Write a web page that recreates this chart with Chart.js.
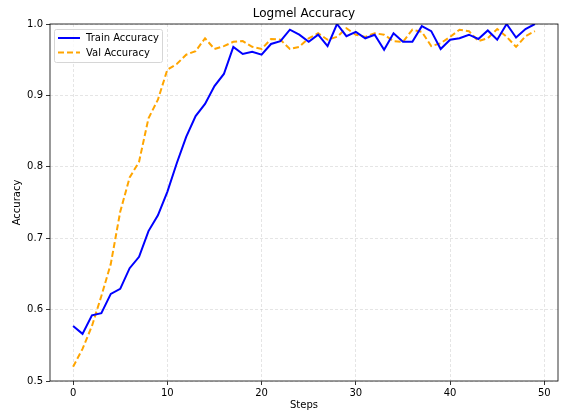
<!DOCTYPE html>
<html>
<head>
<meta charset="utf-8">
<script src="https://cdn.jsdelivr.net/npm/chart.js@4.4.0/dist/chart.umd.min.js"></script>
<style>
    html, body { margin: 0; padding: 0; background: #fff; }
    #grafico { display: block; }
</style>
</head>
<body>
<canvas id="grafico" width="561" height="415"></canvas>
<script>
const passos = Array.from({ length: 50 }, (_, i) => i);

const treinoAcuracia = [
    0.577, 0.566, 0.592, 0.595, 0.622, 0.629, 0.658, 0.674, 0.710, 0.732,
    0.765, 0.805, 0.842, 0.871, 0.888, 0.913, 0.930, 0.968, 0.958, 0.961,
    0.957, 0.972, 0.976, 0.992, 0.985, 0.975, 0.985, 0.969, 1.000, 0.983,
    0.989, 0.980, 0.985, 0.964, 0.987, 0.975, 0.975, 0.997, 0.990, 0.965,
    0.978, 0.980, 0.985, 0.979, 0.991, 0.978, 1.000, 0.981, 0.993, 1.000
];

const valAcuracia = [
    0.520, 0.545, 0.577, 0.619, 0.664, 0.737, 0.785, 0.807, 0.868, 0.894,
    0.936, 0.944, 0.957, 0.962, 0.980, 0.965, 0.969, 0.975, 0.976, 0.968,
    0.965, 0.979, 0.978, 0.965, 0.968, 0.980, 0.987, 0.978, 0.982, 0.994,
    0.985, 0.982, 0.987, 0.985, 0.976, 0.975, 0.992, 0.989, 0.969, 0.973,
    0.982, 0.992, 0.990, 0.976, 0.980, 0.993, 0.982, 0.968, 0.983, 0.990
];

const ticksX = [0, 10, 20, 30, 40, 50];
const ticksY = [0.5, 0.6, 0.7, 0.8, 0.9, 1.0];

const FONTE = 'DejaVu Sans';

function montarPontos(valores) {
    return valores.map((v, i) => ({ x: passos[i], y: v }));
}

// moldura + titulo + legenda no estilo matplotlib
const pluginMoldura = {
    id: 'moldura',
    afterDraw(chart) {
        const ctx = chart.ctx;
        const a = chart.chartArea;
        ctx.save();
        ctx.strokeStyle = '#000';
        ctx.lineWidth = 0.8;
        ctx.strokeRect(a.left, a.top, a.right - a.left, a.bottom - a.top);

        ctx.fillStyle = '#000';
        ctx.font = `12px "${FONTE}"`;
        ctx.textAlign = 'center';
        ctx.textBaseline = 'middle';
        ctx.fillText('Logmel Accuracy', (a.left + a.right) / 2, 14);

        // legenda
        const lx = a.left + 4, ly = a.top + 5, lw = 108, lh = 33;
        ctx.fillStyle = 'rgba(255,255,255,0.8)';
        ctx.strokeStyle = '#d6d6d6';
        ctx.lineWidth = 1;
        ctx.beginPath();
        ctx.roundRect(lx + 0.5, ly + 0.5, lw, lh, 2);
        ctx.fill();
        ctx.stroke();

        const itens = [
            { texto: 'Train Accuracy', cor: '#0000ff', tracejado: [] },
            { texto: 'Val Accuracy', cor: '#ffa500', tracejado: [6, 3] }
        ];
        ctx.font = `10px "${FONTE}"`;
        ctx.textAlign = 'left';
        itens.forEach((item, i) => {
            const y = ly + 9 + i * 14.5;
            ctx.strokeStyle = item.cor;
            ctx.lineWidth = 2;
            ctx.setLineDash(item.tracejado);
            ctx.beginPath();
            ctx.moveTo(lx + 4, y);
            ctx.lineTo(lx + 26, y);
            ctx.stroke();
            ctx.setLineDash([]);
            ctx.fillStyle = '#000';
            ctx.fillText(item.texto, lx + 32, y + 0.5);
        });
        ctx.restore();
    }
};

const gradeComum = {
    color: 'rgba(190,190,190,0.5)',
    lineWidth: 0.8,
    tickColor: '#000',
    tickLength: 4,
    tickBorderDash: []
};

const configGrafico = {
    type: 'line',
    data: {
        datasets: [{
            label: 'Train Accuracy',
            data: montarPontos(treinoAcuracia),
            borderColor: '#0000ff',
            borderWidth: 2,
            pointRadius: 0,
            tension: 0,
            fill: false
        }, {
            label: 'Val Accuracy',
            data: montarPontos(valAcuracia),
            borderColor: '#ffa500',
            borderWidth: 2,
            borderDash: [6, 3],
            pointRadius: 0,
            tension: 0,
            fill: false
        }]
    },
    options: {
        responsive: false,
        animation: false,
        layout: { padding: { left: 0, right: 3, top: 24, bottom: 0 } },
        scales: {
            x: {
                type: 'linear',
                min: -2.45,
                max: 51.45,
                afterBuildTicks: (escala) => { escala.ticks = ticksX.map(v => ({ value: v })); },
                afterFit: (escala) => { escala.height = 34; },
                ticks: {
                    color: '#000',
                    font: { family: FONTE, size: 10 },
                    padding: 2,
                    maxRotation: 0
                },
                grid: gradeComum,
                border: { display: false, dash: [3, 2] },
                title: {
                    display: true,
                    text: 'Steps',
                    color: '#000',
                    font: { family: FONTE, size: 10 },
                    padding: { top: 0, bottom: 4 }
                }
            },
            y: {
                min: 0.5,
                max: 1.0,
                afterBuildTicks: (escala) => { escala.ticks = ticksY.map(v => ({ value: v })); },
                afterFit: (escala) => { escala.width = 50; },
                ticks: {
                    color: '#000',
                    font: { family: FONTE, size: 10 },
                    padding: 3,
                    callback: (valor) => valor.toFixed(1)
                },
                grid: gradeComum,
                border: { display: false, dash: [3, 2] },
                title: {
                    display: true,
                    text: 'Accuracy',
                    color: '#000',
                    font: { family: FONTE, size: 10 },
                    padding: { top: 11, bottom: 0 }
                }
            }
        },
        plugins: {
            legend: { display: false },
            title: { display: false },
            tooltip: { enabled: false }
        }
    },
    plugins: [pluginMoldura]
};

new Chart(document.getElementById('grafico'), configGrafico);
</script>
</body>
</html>
